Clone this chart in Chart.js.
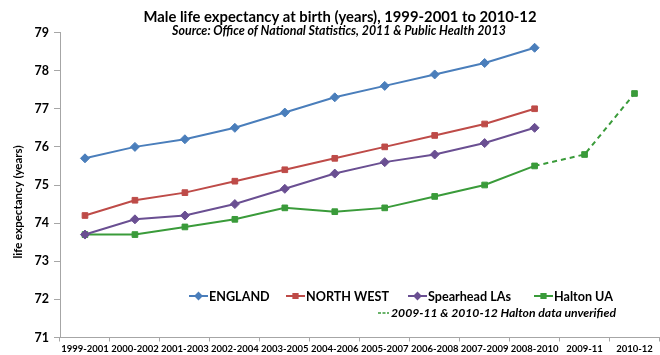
<!DOCTYPE html>
<html>
<head>
<meta charset="utf-8">
<script src="https://cdn.jsdelivr.net/npm/chart.js@4.4.1/dist/chart.umd.min.js"></script>
<style>
  html, body { margin: 0; padding: 0; background: #fff; overflow: hidden; }
  #wrap { width: 665px; height: 355px; position: relative; }
</style>
</head>
<body>
<div id="wrap"><canvas id="c"></canvas></div>
<script>
// Three-year periods along the x axis
const periods = ['1999-2001', '2000-2002', '2001-2003', '2002-2004', '2003-2005',
  '2004-2006', '2005-2007', '2006-2008', '2007-2009', '2008-2010', '2009-11', '2010-12'];

// Male life expectancy at birth (years)
const england   = [75.7, 76.0, 76.2, 76.5, 76.9, 77.3, 77.6, 77.9, 78.2, 78.6];
const northWest = [74.2, 74.6, 74.8, 75.1, 75.4, 75.7, 76.0, 76.3, 76.6, 77.0];
const spearhead = [73.7, 74.1, 74.2, 74.5, 74.9, 75.3, 75.6, 75.8, 76.1, 76.5];
const halton    = [73.7, 73.7, 73.9, 74.1, 74.4, 74.3, 74.4, 74.7, 75.0, 75.5, 75.8, 77.4];

const yTicks = [71, 72, 73, 74, 75, 76, 77, 78, 79];

const seriesNames = ['ENGLAND', 'NORTH WEST', 'Spearhead LAs', 'Halton UA'];
const titleText = 'Male life expectancy at birth (years), 1999-2001 to 2010-12';
const subtitleText = 'Source: Office of National Statistics, 2011 & Public Health 2013';
const yTitleText = 'life expectancy (years)';
const noteText = '2009-11 & 2010-12 Halton data unverified';

const FONT = 'Lato, "Liberation Sans", sans-serif';
const C_BLUE = '#4a7ebb', C_RED = '#be4b48', C_PURPLE = '#6a4f92', C_GREEN = '#3a9b3a';
const AXIS = '#a6a6a6';

const firstUnverified = 9; // dashed from the 2008-2010 point onward

const datasets = [
  { label: seriesNames[0], data: england, borderColor: C_BLUE, backgroundColor: C_BLUE,
    pointStyle: 'rectRot', pointRadius: 4.5 },
  { label: seriesNames[1], data: northWest, borderColor: C_RED, backgroundColor: C_RED,
    pointStyle: 'rect', pointRadius: 4 },
  { label: seriesNames[2], data: spearhead, borderColor: C_PURPLE, backgroundColor: C_PURPLE,
    pointStyle: 'rectRot', pointRadius: 4.5 },
  { label: seriesNames[3], data: halton, borderColor: C_GREEN, backgroundColor: C_GREEN,
    pointStyle: 'rect', pointRadius: 4,
    segment: { borderDash: ctx => ctx.p0DataIndex >= firstUnverified ? [5, 4] : undefined } }
].map(d => Object.assign({ borderWidth: 2, pointBorderWidth: 1, pointHoverRadius: 4, tension: 0, fill: false }, d));

// Titles, rotated y title and the in-plot legend
const decorations = {
  id: 'decorations',
  afterDraw(chart) {
    const ctx = chart.ctx;
    ctx.save();
    ctx.fillStyle = '#000';
    ctx.textAlign = 'center';
    ctx.textBaseline = 'middle';
    ctx.font = 'bold 14.8px ' + FONT;
    ctx.fillText(titleText, 340, 17);
    ctx.font = 'italic bold 12.4px ' + FONT;
    ctx.fillText(subtitleText, 339, 30.5);

    ctx.save();
    ctx.translate(18, 202);
    ctx.rotate(-Math.PI / 2);
    ctx.font = 'bold 11.5px ' + FONT;
    ctx.fillText(yTitleText, 0, 0);
    ctx.restore();

    // legend row
    const xs = [189, 286, 408, 534];
    const ly = 296;
    ctx.textAlign = 'left';
    ctx.font = 'bold 12.6px ' + FONT;
    chart.data.datasets.forEach((ds, i) => {
      const x0 = xs[i];
      ctx.strokeStyle = ds.borderColor;
      ctx.lineWidth = 2;
      ctx.beginPath();
      ctx.moveTo(x0, ly);
      ctx.lineTo(x0 + 19, ly);
      ctx.stroke();
      ctx.fillStyle = ds.backgroundColor;
      Chart.helpers.drawPoint(ctx, { pointStyle: ds.pointStyle, radius: 3, borderWidth: 1 }, x0 + 9.5, ly);
      ctx.fillStyle = '#000';
      ctx.fillText(ds.label, x0 + 20, ly + 0.5);
    });

    // note on the unverified Halton values
    const ny = 313;
    ctx.strokeStyle = C_GREEN;
    ctx.lineWidth = 1.5;
    ctx.setLineDash([3, 1.5]);
    ctx.beginPath();
    ctx.moveTo(378, ny);
    ctx.lineTo(389, ny);
    ctx.stroke();
    ctx.setLineDash([]);
    ctx.fillStyle = '#000';
    ctx.font = 'italic bold 12.2px ' + FONT;
    ctx.fillText(noteText, 391, ny + 0.5);
    ctx.restore();
  }
};

new Chart(document.getElementById('c'), {
  type: 'line',
  data: { labels: periods, datasets },
  options: {
    responsive: true,
    maintainAspectRatio: false,
    animation: false,
    events: [],
    layout: { padding: { top: 32.5, right: 1, bottom: 0, left: 0 } },
    plugins: { legend: { display: false }, title: { display: false }, tooltip: { enabled: false } },
    scales: {
      x: {
        offset: true,
        border: { color: AXIS, width: 1 },
        grid: { drawOnChartArea: false, offset: true, tickLength: 4, color: AXIS },
        ticks: { color: '#000', font: { family: FONT, size: 9.5, weight: 'bold' },
                 maxRotation: 0, autoSkip: false, padding: 2 },
        afterFit(scale) { scale.height = 17.5; }
      },
      y: {
        min: 71, max: 79,
        afterBuildTicks(scale) { scale.ticks = yTicks.map(v => ({ value: v })); },
        border: { color: AXIS, width: 1 },
        grid: { drawOnChartArea: false, tickLength: 6, color: AXIS },
        ticks: { color: '#000', font: { family: FONT, size: 12.5, weight: 'bold' }, padding: 5 },
        afterFit(scale) { scale.width = 60; }
      }
    }
  },
  plugins: [decorations]
});
</script>
</body>
</html>
